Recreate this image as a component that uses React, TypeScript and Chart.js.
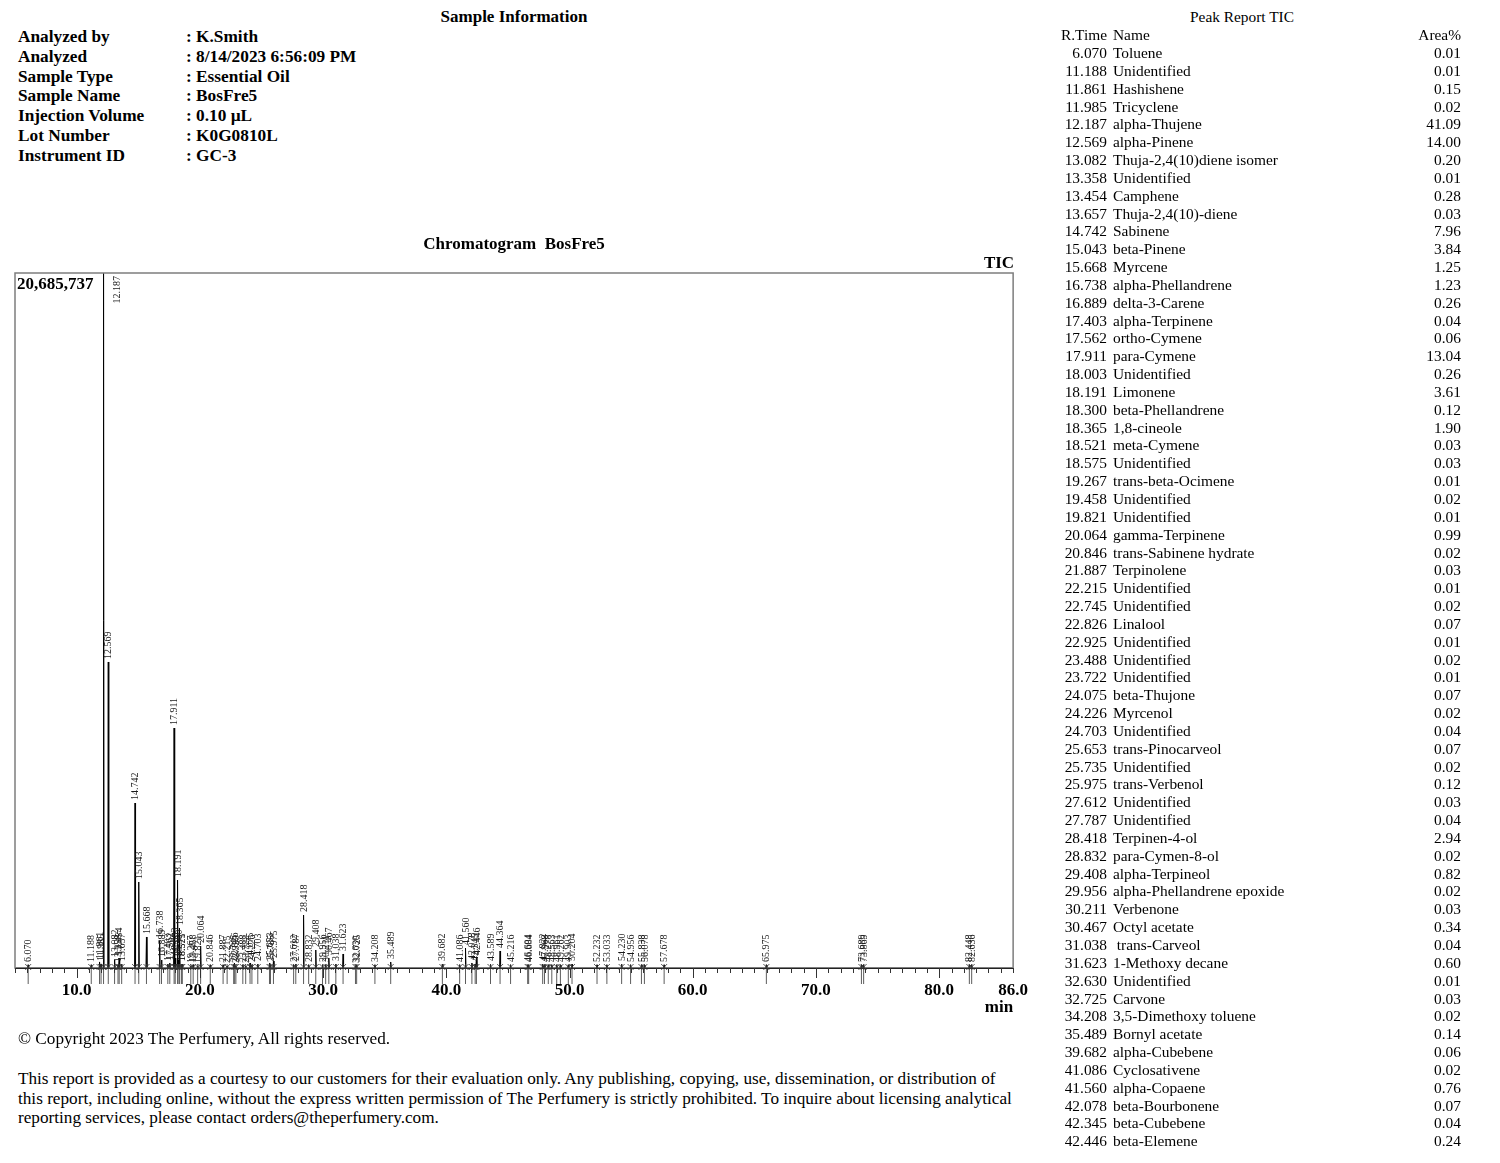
import React, { useEffect, useRef } from "react";
import { Chart, registerables } from "chart.js";

Chart.register(...registerables);

// ---------- DATA ----------
const maxIntensity = 20685737;

const peakTimes = [
  6.07, 11.188, 11.861, 11.985, 12.187, 12.569, 13.082, 13.358, 13.454, 13.657,
  14.742, 15.043, 15.668, 16.738, 16.889, 17.403, 17.562, 17.911, 18.003, 18.191,
  18.3, 18.365, 18.521, 18.575, 19.267, 19.458, 19.821, 20.064, 20.846, 21.887,
  22.215, 22.745, 22.826, 22.925, 23.488, 23.722, 24.075, 24.226, 24.703, 25.653,
  25.735, 25.975, 27.612, 27.787, 28.418, 28.832, 29.408, 29.956, 30.211, 30.467,
  31.038, 31.623, 32.63, 32.725, 34.208, 35.489, 39.682, 41.086, 41.56, 42.078,
  42.345, 42.446, 43.589, 44.364, 45.216, 46.604, 46.684, 47.822, 47.968, 48.278,
  48.563, 48.961, 49.262, 49.903, 50.204, 52.232, 53.033, 54.23, 54.956, 55.838,
  56.078, 57.678, 65.975, 73.689, 73.869, 82.448, 82.636,
];

const peakHeights = [
  89000, 89000, 180000, 120000, 20685737, 9108000, 238000, 89000, 298000, 119000,
  4911000, 2560000, 923000, 804000, 238000, 119000, 149000, 7143000, 298000, 2619000,
  238000, 1190000, 119000, 119000, 60000, 89000, 60000, 655000, 89000, 89000,
  60000, 89000, 149000, 60000, 89000, 60000, 149000, 89000, 119000, 149000,
  89000, 208000, 89000, 119000, 1577000, 89000, 536000, 89000, 89000, 298000,
  119000, 417000, 60000, 89000, 89000, 179000, 119000, 89000, 595000, 149000,
  119000, 298000, 119000, 506000, 89000, 89000, 89000, 119000, 89000, 89000,
  89000, 89000, 89000, 89000, 119000, 89000, 89000, 119000, 89000, 89000,
  89000, 89000, 89000, 89000, 89000, 89000, 89000,
];

const xMin = 5;
const xMax = 86;
const xTickLabels = [10, 20, 30, 40, 50, 60, 70, 80, 86];

const reportTimes = [
  "6.070", "11.188", "11.861", "11.985", "12.187", "12.569", "13.082", "13.358", "13.454", "13.657",
  "14.742", "15.043", "15.668", "16.738", "16.889", "17.403", "17.562", "17.911", "18.003", "18.191",
  "18.300", "18.365", "18.521", "18.575", "19.267", "19.458", "19.821", "20.064", "20.846", "21.887",
  "22.215", "22.745", "22.826", "22.925", "23.488", "23.722", "24.075", "24.226", "24.703", "25.653",
  "25.735", "25.975", "27.612", "27.787", "28.418", "28.832", "29.408", "29.956", "30.211", "30.467",
  "31.038", "31.623", "32.630", "32.725", "34.208", "35.489", "39.682", "41.086", "41.560", "42.078",
  "42.345", "42.446",
];

const reportNames = [
  "Toluene", "Unidentified", "Hashishene", "Tricyclene", "alpha-Thujene", "alpha-Pinene",
  "Thuja-2,4(10)diene isomer", "Unidentified", "Camphene", "Thuja-2,4(10)-diene",
  "Sabinene", "beta-Pinene", "Myrcene", "alpha-Phellandrene", "delta-3-Carene",
  "alpha-Terpinene", "ortho-Cymene", "para-Cymene", "Unidentified", "Limonene",
  "beta-Phellandrene", "1,8-cineole", "meta-Cymene", "Unidentified", "trans-beta-Ocimene",
  "Unidentified", "Unidentified", "gamma-Terpinene", "trans-Sabinene hydrate", "Terpinolene",
  "Unidentified", "Unidentified", "Linalool", "Unidentified", "Unidentified",
  "Unidentified", "beta-Thujone", "Myrcenol", "Unidentified", "trans-Pinocarveol",
  "Unidentified", "trans-Verbenol", "Unidentified", "Unidentified", "Terpinen-4-ol",
  "para-Cymen-8-ol", "alpha-Terpineol", "alpha-Phellandrene epoxide", "Verbenone", "Octyl acetate",
  " trans-Carveol", "1-Methoxy decane", "Unidentified", "Carvone", "3,5-Dimethoxy toluene",
  "Bornyl acetate", "alpha-Cubebene", "Cyclosativene", "alpha-Copaene", "beta-Bourbonene",
  "beta-Cubebene", "beta-Elemene",
];

const reportAreas = [
  "0.01", "0.01", "0.15", "0.02", "41.09", "14.00", "0.20", "0.01", "0.28", "0.03",
  "7.96", "3.84", "1.25", "1.23", "0.26", "0.04", "0.06", "13.04", "0.26", "3.61",
  "0.12", "1.90", "0.03", "0.03", "0.01", "0.02", "0.01", "0.99", "0.02", "0.03",
  "0.01", "0.02", "0.07", "0.01", "0.02", "0.01", "0.07", "0.02", "0.04", "0.07",
  "0.02", "0.12", "0.03", "0.04", "2.94", "0.02", "0.82", "0.02", "0.03", "0.34",
  "0.04", "0.60", "0.01", "0.03", "0.02", "0.14", "0.06", "0.02", "0.76", "0.07",
  "0.04", "0.24",
];

const infoLabels = ["Analyzed by", "Analyzed", "Sample Type", "Sample Name", "Injection Volume", "Lot Number", "Instrument ID"];
const infoValues = ["K.Smith", "8/14/2023 6:56:09 PM", "Essential Oil", "BosFre5", "0.10 µL", "K0G0810L", "GC-3"];

// ---------- STYLE ----------
const SERIF = '"Liberation Serif", "Times New Roman", serif';
const PEAK_HALF_WIDTH = 0.04;

function buildPoints() {
  const idx = peakTimes.map((_, i) => i).sort((a, b) => peakTimes[a] - peakTimes[b]);
  const pts: { x: number; y: number }[] = [{ x: xMin, y: 0 }];
  idx.forEach((i) => {
    const t = peakTimes[i];
    pts.push({ x: t - PEAK_HALF_WIDTH, y: 0 });
    pts.push({ x: t, y: peakHeights[i] });
    pts.push({ x: t + PEAK_HALF_WIDTH, y: 0 });
  });
  pts.push({ x: xMax, y: 0 });
  return pts;
}

const reportPlugin = {
  id: "reportDecor",
  afterDatasetsDraw(chart: any) {
    const { ctx, chartArea: a, scales } = chart;
    const xs = scales.x;
    const ys = scales.y;
    ctx.save();

    // frame
    ctx.strokeStyle = "#7d7d7d";
    ctx.lineWidth = 1.5;
    ctx.strokeRect(a.left, a.top, a.right - a.left, a.bottom - a.top);
    ctx.strokeStyle = "#222";
    ctx.lineWidth = 1;
    ctx.beginPath();
    ctx.moveTo(a.left, a.bottom + 0.5);
    ctx.lineTo(a.right, a.bottom + 0.5);
    ctx.stroke();

    // axis ticks
    ctx.strokeStyle = "#333";
    for (let v = xMin; v <= xMax; v++) {
      const px = Math.round(xs.getPixelForValue(v)) + 0.5;
      const len = v % 10 === 0 ? 10 : 5;
      ctx.beginPath();
      ctx.moveTo(px, a.bottom);
      ctx.lineTo(px, a.bottom + len);
      ctx.stroke();
    }

    // peak markers & labels
    ctx.font = `10px ${SERIF}`;
    ctx.fillStyle = "#1a1a1a";
    peakTimes.forEach((t, i) => {
      const px = xs.getPixelForValue(t);
      const py = ys.getPixelForValue(peakHeights[i]);
      ctx.strokeStyle = "#333";
      ctx.lineWidth = 0.8;
      ctx.beginPath();
      ctx.moveTo(px, a.bottom - 4);
      ctx.lineTo(px, a.bottom + 16);
      ctx.moveTo(px - 3, a.bottom - 4);
      ctx.lineTo(px + 3, a.bottom + 2);
      ctx.moveTo(px + 3, a.bottom - 4);
      ctx.lineTo(px - 3, a.bottom + 2);
      ctx.stroke();

      const label = t.toFixed(3);
      const w = ctx.measureText(label).width;
      ctx.save();
      if (py - 3 - w < a.top) {
        ctx.translate(px + 14, a.top + 3);
        ctx.rotate(-Math.PI / 2);
        ctx.textAlign = "right";
      } else {
        ctx.translate(px + 0.5, py - 3);
        ctx.rotate(-Math.PI / 2);
        ctx.textAlign = "left";
      }
      ctx.textBaseline = "middle";
      ctx.fillText(label, 0, 0);
      ctx.restore();
    });

    // texts
    ctx.fillStyle = "#000";
    ctx.font = `bold 17px ${SERIF}`;
    ctx.textBaseline = "middle";
    ctx.textAlign = "center";
    ctx.fillText("Chromatogram  BosFre5", (a.left + a.right) / 2, a.top - 28);
    ctx.textAlign = "right";
    ctx.fillText("TIC", a.right + 1, a.top - 9);
    ctx.fillText("min", a.right, a.bottom + 40);
    ctx.textAlign = "left";
    ctx.fillText(maxIntensity.toLocaleString("en-US"), a.left + 2, a.top + 12);
    ctx.restore();
  },
};

const abs = (left: number, top: number, extra: any = {}) => ({
  position: "absolute" as const,
  left,
  top,
  whiteSpace: "pre" as const,
  ...extra,
});

function ChromatogramChart() {
  const ref = useRef<HTMLCanvasElement | null>(null);
  useEffect(() => {
    if (!ref.current) return;
    const chart = new Chart(ref.current, {
      type: "line",
      data: {
        datasets: [
          {
            data: buildPoints(),
            borderColor: "#000",
            borderWidth: 1,
            pointRadius: 0,
            tension: 0,
            fill: false,
          },
        ],
      },
      options: {
        animation: false,
        responsive: false,
        maintainAspectRatio: false,
        parsing: false as any,
        layout: { padding: { left: 15, right: 24, top: 48, bottom: 12 } },
        plugins: {
          legend: { display: false },
          tooltip: { enabled: false },
          title: { display: false },
        },
        scales: {
          x: {
            type: "linear",
            min: xMin,
            max: xMax,
            afterFit: (s: any) => {
              s.height = 50;
            },
            grid: { display: false, drawTicks: false },
            border: { display: false },
            afterBuildTicks: (s: any) => {
              s.ticks = xTickLabels.map((v) => ({ value: v }));
            },
            ticks: {
              autoSkip: false,
              maxRotation: 0,
              padding: 12,
              color: "#000",
              font: { family: SERIF, size: 17, weight: "bold" },
              callback: (v: any) => Number(v).toFixed(1),
            },
          },
          y: { display: false, min: 0, max: maxIntensity },
        },
      } as any,
      plugins: [reportPlugin],
    });
    return () => chart.destroy();
  }, []);
  return (
    <canvas
      ref={ref}
      width={1040}
      height={805}
      style={{ position: "absolute", left: 0, top: 225, width: 1040, height: 805 }}
    />
  );
}

export default function App() {
  const rowH = 17.84;
  const tf = 15.4;
  return (
    <div
      style={{
        position: "absolute",
        left: 0,
        top: 0,
        width: 1500,
        height: 1163,
        overflow: "hidden",
        background: "#fff",
        fontFamily: SERIF,
        color: "#000",
      }}
    >
      {/* Sample information */}
      <div style={abs(0, 6, { width: 1028, textAlign: "center", fontWeight: "bold", fontSize: 17, lineHeight: "22px" })}>
        Sample Information
      </div>
      {infoLabels.map((l, i) => (
        <React.Fragment key={l}>
          <div style={abs(18, 26 + i * 19.8, { fontWeight: "bold", fontSize: 17.3, lineHeight: "22px" })}>{l}</div>
          <div style={abs(186, 26 + i * 19.8, { fontWeight: "bold", fontSize: 17.3, lineHeight: "22px" })}>
            {": " + infoValues[i]}
          </div>
        </React.Fragment>
      ))}

      <ChromatogramChart />

      {/* Footer */}
      <div style={abs(18, 1029, { fontSize: 17.2, lineHeight: "20px" })}>
        © Copyright 2023 The Perfumery, All rights reserved.
      </div>
      <div style={abs(18, 1069, { fontSize: 17.2, lineHeight: "19.7px" })}>
        {"This report is provided as a courtesy to our customers for their evaluation only. Any publishing, copying, use, dissemination, or distribution of\nthis report, including online, without the express written permission of The Perfumery is strictly prohibited. To inquire about licensing analytical\nreporting services, please contact orders@theperfumery.com."}
      </div>

      {/* Peak report table */}
      <div style={abs(1142, 8, { width: 200, textAlign: "center", fontSize: tf, lineHeight: "18px" })}>
        Peak Report TIC
      </div>
      <div style={abs(1007, 26, { width: 100, textAlign: "right", fontSize: tf, lineHeight: "18px" })}>R.Time</div>
      <div style={abs(1113, 26, { fontSize: tf, lineHeight: "18px" })}>Name</div>
      <div style={abs(1361, 26, { width: 100, textAlign: "right", fontSize: tf, lineHeight: "18px" })}>Area%</div>
      {reportTimes.map((t, i) => (
        <React.Fragment key={t + i}>
          <div style={abs(1007, 44 + i * rowH, { width: 100, textAlign: "right", fontSize: tf, lineHeight: "18px" })}>
            {t}
          </div>
          <div style={abs(1113, 44 + i * rowH, { fontSize: tf, lineHeight: "18px" })}>{reportNames[i]}</div>
          <div style={abs(1361, 44 + i * rowH, { width: 100, textAlign: "right", fontSize: tf, lineHeight: "18px" })}>
            {reportAreas[i]}
          </div>
        </React.Fragment>
      ))}
    </div>
  );
}
